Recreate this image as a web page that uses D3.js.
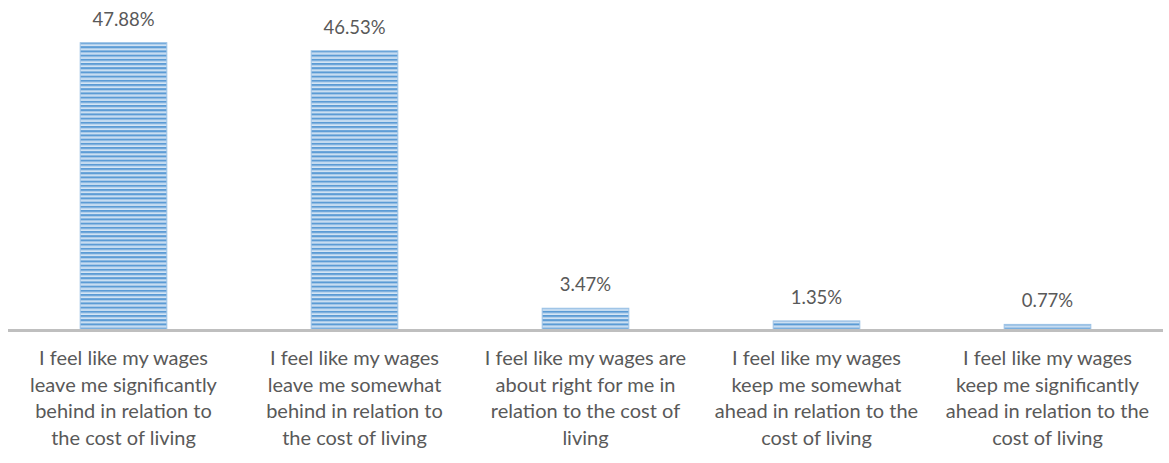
<!DOCTYPE html>
<html><head><meta charset="utf-8">
<script src="https://cdn.jsdelivr.net/npm/d3@7"></script>
<style>body{margin:0;background:#fff}svg{display:block}</style>
</head><body>
<svg id="c" width="1169" height="463"></svg>
<script>
const categories = [
  ["I feel like my wages","leave me significantly","behind in relation to","the cost of living"],
  ["I feel like my wages","leave me somewhat","behind in relation to","the cost of living"],
  ["I feel like my wages are","about right for me in","relation to the cost of","living"],
  ["I feel like my wages","keep me somewhat","ahead in relation to the","cost of living"],
  ["I feel like my wages","keep me significantly","ahead in relation to the","cost of living"]
];
const values = [47.88, 46.53, 3.47, 1.35, 0.77];
const valueLabels = ["47.88%","46.53%","3.47%","1.35%","0.77%"];

const svg = d3.select("#c");
const left = 8, right = 1163, base = 329;
const x = d3.scaleBand().domain(d3.range(values.length)).range([left, right]).paddingInner(0.625).paddingOuter(0.3125);
const y = d3.scaleLinear().domain([0, 50]).range([base, base - 299]);

const defs = svg.append("defs");
const pat = defs.append("pattern").attr("id","stripes").attr("patternUnits","userSpaceOnUse")
  .attr("width", 8).attr("height", 4.2);
pat.append("rect").attr("width",8).attr("height",4.2).attr("fill","#d6e6f5");
pat.append("rect").attr("y",0).attr("width",8).attr("height",2).attr("fill","#5b9bd5");
pat.append("rect").attr("y",2).attr("width",8).attr("height",0.8).attr("fill","#9dc3e6");

const font = "Lato, 'Open Sans', sans-serif";

svg.append("g").selectAll("rect").data(values).join("rect")
  .attr("x", (d,i) => x(i)).attr("width", x.bandwidth())
  .attr("y", d => y(d)).attr("height", d => base - y(d))
  .attr("fill", "url(#stripes)")
  .attr("stroke", "#9dc3e6").attr("stroke-width", 1);

svg.append("line").attr("x1", left).attr("x2", right).attr("y1", base + 1.5).attr("y2", base + 1.5)
  .attr("stroke", "#bfbfbf").attr("stroke-width", 3);

svg.append("g").selectAll("text").data(values).join("text")
  .attr("x", (d,i) => x(i) + x.bandwidth()/2)
  .attr("y", d => y(d) - 17)
  .attr("text-anchor", "middle")
  .attr("font-family", font).attr("font-size", 18.5).attr("fill", "#595959")
  .text((d,i) => valueLabels[i]);

const lab = svg.append("g").selectAll("text").data(categories).join("text")
  .attr("text-anchor", "middle")
  .attr("font-family", font).attr("font-size", 20).attr("fill", "#595959");
lab.each(function(lines, i) {
  const t = d3.select(this);
  lines.forEach((l, k) => {
    t.append("tspan").attr("x", x(i) + x.bandwidth()/2).attr("y", 365 + k*26.7).text(l);
  });
});
</script>
</body></html>
